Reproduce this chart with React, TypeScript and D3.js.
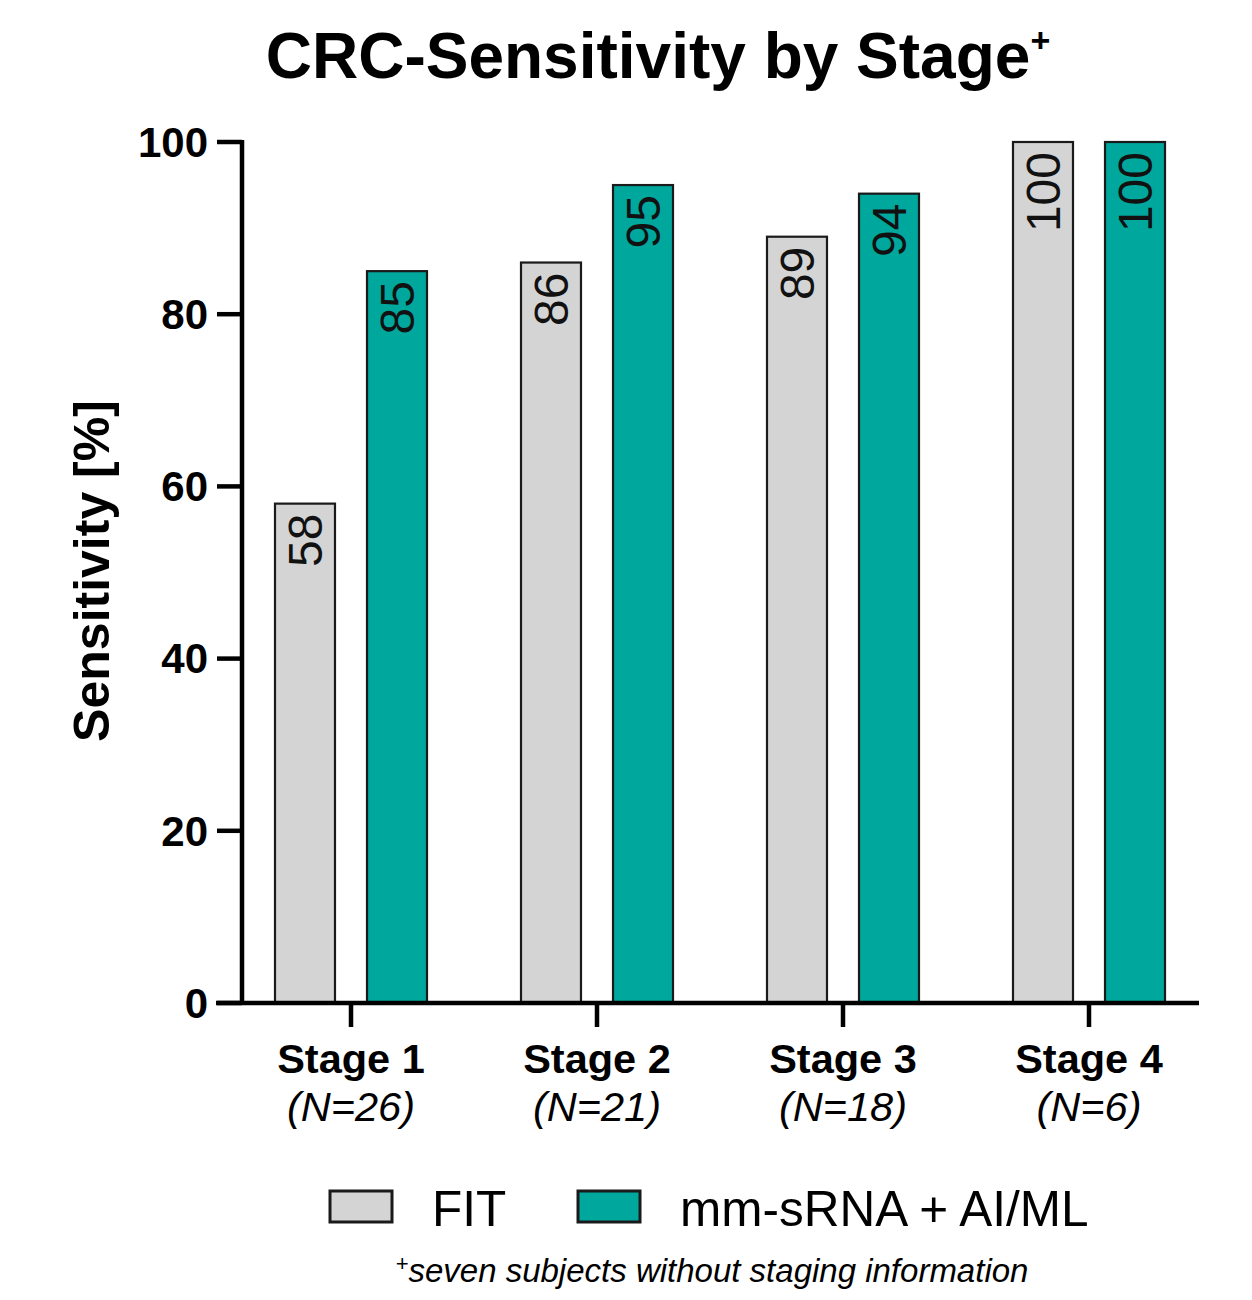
import React from "react";
import * as d3 from "d3";

const stages = ["Stage 1", "Stage 2", "Stage 3", "Stage 4"];
const nLabels = ["(N=26)", "(N=21)", "(N=18)", "(N=6)"];
const seriesNames = ["FIT", "mm-sRNA + AI/ML"];
const fitValues = [58, 86, 89, 100];
const mmValues = [85, 95, 94, 100];
const yTicks = [0, 20, 40, 60, 80, 100];
const colors = ["#d4d4d4", "#00a79d"];

const W = 1252;
const H = 1300;
const FONT = "Liberation Sans, Arial, Helvetica, sans-serif";

export default function App() {
  const y = d3.scaleLinear().domain([0, 100]).range([1003, 142]);
  const x0 = d3.scaleBand().domain(stages).range([228, 1212]).padding(0);
  const x1 = d3
    .scaleBand()
    .domain(seriesNames)
    .range([47, 199])
    .paddingInner(0.348)
    .paddingOuter(0);
  const seriesValues = [fitValues, mmValues];
  const axisX = 242;
  const baseY = y(0);

  return (
    <svg
      width={W}
      height={H}
      style={{ position: "absolute", left: 0, top: 0, background: "#fff" }}
      fontFamily={FONT}
    >
      {/* Title */}
      <text x={658} y={78} textAnchor="middle" fontSize={64} fontWeight="bold" fill="#000">
        CRC-Sensitivity by Stage
        <tspan fontSize={34} dy={-26}>+</tspan>
      </text>

      {/* Bars */}
      {stages.map((s, i) => (
        <g key={s} transform={`translate(${x0(s)},0)`}>
          {seriesNames.map((name, j) => {
            const v = seriesValues[j][i];
            const bx = x1(name)!;
            const bw = x1.bandwidth();
            const top = y(v);
            const cx = bx + bw / 2;
            return (
              <g key={name}>
                <rect
                  x={bx}
                  y={top}
                  width={bw}
                  height={baseY - top}
                  fill={colors[j]}
                  stroke="#1a1a1a"
                  strokeWidth={2.2}
                />
                <text
                  transform={`translate(${cx},${top + 10}) rotate(-90)`}
                  textAnchor="end"
                  dy="0.36em"
                  fontSize={48}
                  fill="#111"
                >
                  {v}
                </text>
              </g>
            );
          })}
        </g>
      ))}

      {/* Y axis */}
      <line x1={axisX} x2={axisX} y1={y(100) - 2} y2={baseY + 2} stroke="#000" strokeWidth={4.5} />
      {yTicks.map((t) => (
        <g key={t}>
          <line x1={217} x2={axisX} y1={y(t)} y2={y(t)} stroke="#000" strokeWidth={4.5} />
          <text
            x={208}
            y={y(t)}
            dy="0.35em"
            textAnchor="end"
            fontSize={42}
            fontWeight="bold"
            fill="#000"
          >
            {t}
          </text>
        </g>
      ))}

      {/* X axis */}
      <line x1={216} x2={1199} y1={baseY} y2={baseY} stroke="#000" strokeWidth={4.5} />
      {stages.map((s, i) => {
        const cx = x0(s)! + x0.bandwidth() / 2;
        return (
          <g key={s}>
            <line x1={cx} x2={cx} y1={baseY} y2={1027} stroke="#000" strokeWidth={4.5} />
            <text x={cx} y={1073} textAnchor="middle" fontSize={41.5} fontWeight="bold" fill="#000">
              {s}
            </text>
            <text x={cx} y={1121} textAnchor="middle" fontSize={41.5} fontStyle="italic" fill="#000">
              {nLabels[i]}
            </text>
          </g>
        );
      })}

      {/* Y axis title */}
      <text
        transform={`translate(109,571) rotate(-90)`}
        textAnchor="middle"
        fontSize={50}
        fontWeight="bold"
        fill="#000"
      >
        Sensitivity [%]
      </text>

      {/* Legend */}
      {seriesNames.map((name, j) => {
        const bx = [330, 578][j];
        const tx = [432, 680][j];
        return (
          <g key={name}>
            <rect x={bx} y={1191} width={62} height={31} fill={colors[j]} stroke="#1a1a1a" strokeWidth={3} />
            <text x={tx} y={1226} fontSize={49.5} fill="#000">
              {name}
            </text>
          </g>
        );
      })}

      {/* Footnote */}
      <text x={712} y={1282} textAnchor="middle" fontSize={33} fontStyle="italic" fill="#000">
        <tspan fontSize={22} dy={-11}>+</tspan>
        <tspan dy={11}>seven subjects without staging information</tspan>
      </text>
    </svg>
  );
}
